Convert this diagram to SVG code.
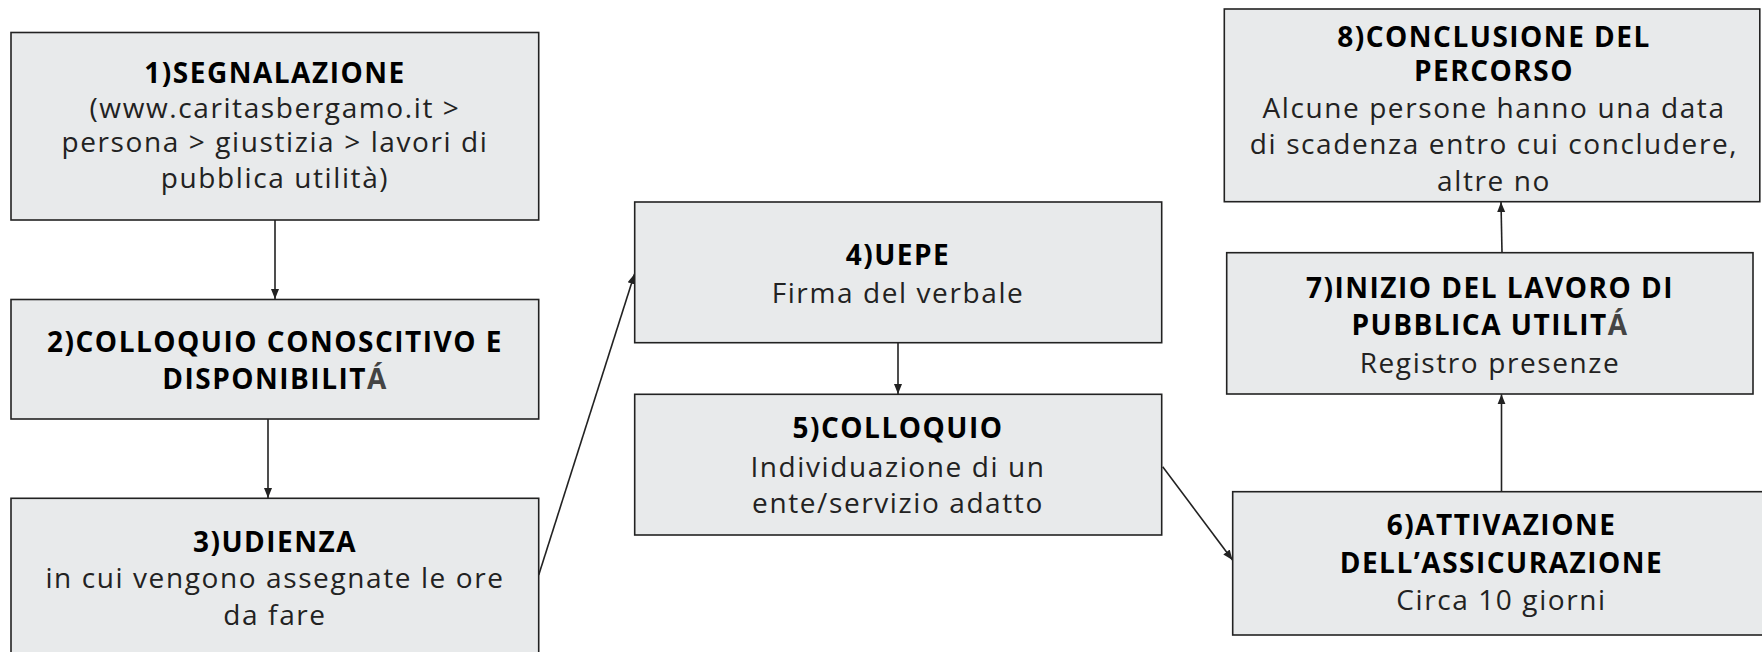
<svg xmlns="http://www.w3.org/2000/svg" width="1762" height="652" viewBox="0 0 1762 652">
<defs>
<marker id="ah" viewBox="0 0 10 10" refX="10" refY="5" markerWidth="10" markerHeight="10" markerUnits="userSpaceOnUse" orient="auto">
<path d="M0,1 L10,5 L0,9 Z" fill="#222"/>
</marker>
<style>
.box{fill:#e8eaeb;stroke:#222;stroke-width:1.6}
.t{font-family:"Open Sans",Lato,"Liberation Sans",sans-serif;font-size:28px;text-anchor:middle;fill:#222;letter-spacing:1.6px}
.b{font-weight:700;fill:#000;letter-spacing:1.5px}
.g{fill:#444}
.c{stroke:#222;stroke-width:1.6;fill:none;marker-end:url(#ah)}
</style>
</defs>
<rect width="1762" height="652" fill="#fff"/>
<g id="connectors">
<line class="c" x1="275" y1="220" x2="275" y2="299"/>
<line class="c" x1="268" y1="419" x2="268" y2="498"/>
<line class="c" x1="538.7" y1="575" x2="634.5" y2="274"/>
<line class="c" x1="898" y1="342.7" x2="898" y2="394"/>
<line class="c" x1="1162.7" y1="466.7" x2="1232.5" y2="560"/>
<line class="c" x1="1501.5" y1="491.7" x2="1501.5" y2="394.3"/>
<line class="c" x1="1502" y1="252.7" x2="1501" y2="202"/>
</g>
<g id="n1">
<rect class="box" x="11" y="32.5" width="527.7" height="187.5"/>
<text class="t" x="275"><tspan class="b" x="275" y="82.7">1)SEGNALAZIONE</tspan><tspan x="275" y="117.5">(www.caritasbergamo.it &gt;</tspan><tspan x="275" y="152.3">persona &gt; giustizia &gt; lavori di</tspan><tspan x="275" y="187.5">pubblica utilità)</tspan></text>
</g>
<g id="n2">
<rect class="box" x="11" y="299.5" width="527.7" height="119.5"/>
<text class="t b"><tspan x="275" y="352">2)COLLOQUIO CONOSCITIVO E</tspan><tspan x="275" y="389">DISPONIBILIT<tspan class="g">Á</tspan></tspan></text>
</g>
<g id="n3">
<rect class="box" x="11" y="498.3" width="527.7" height="170"/>
<text class="t"><tspan class="b" x="275" y="551.7">3)UDIENZA</tspan><tspan x="275" y="588">in cui vengono assegnate le ore</tspan><tspan x="275" y="625">da fare</tspan></text>
</g>
<g id="n4">
<rect class="box" x="634.7" y="202" width="527" height="140.7"/>
<text class="t"><tspan class="b" x="898" y="265">4)UEPE</tspan><tspan x="898" y="302.7">Firma del verbale</tspan></text>
</g>
<g id="n5">
<rect class="box" x="634.7" y="394.3" width="527" height="140.7"/>
<text class="t"><tspan class="b" x="898" y="438">5)COLLOQUIO</tspan><tspan x="898" y="476.7">Individuazione di un</tspan><tspan x="898" y="513">ente/servizio adatto</tspan></text>
</g>
<g id="n6">
<rect class="box" x="1232.7" y="491.7" width="540" height="143.3"/>
<text class="t"><tspan class="b" x="1501.5" y="535">6)ATTIVAZIONE</tspan><tspan class="b" x="1501.5" y="573.3">DELL’ASSICURAZIONE</tspan><tspan x="1501.5" y="610">Circa 10 giorni</tspan></text>
</g>
<g id="n7">
<rect class="box" x="1226.7" y="252.7" width="526.3" height="141.3"/>
<text class="t"><tspan class="b" x="1490" y="298.3">7)INIZIO DEL LAVORO DI</tspan><tspan class="b" x="1490" y="335">PUBBLICA UTILIT<tspan class="g">Á</tspan></tspan><tspan x="1490" y="372.7">Registro presenze</tspan></text>
</g>
<g id="n8">
<rect class="box" x="1224.3" y="9" width="535.5" height="192.7"/>
<text class="t"><tspan class="b" x="1494" y="46.5">8)CONCLUSIONE DEL</tspan><tspan class="b" x="1494" y="81">PERCORSO</tspan><tspan x="1494" y="118.3">Alcune persone hanno una data</tspan><tspan x="1494" y="154">di scadenza entro cui concludere,</tspan><tspan x="1494" y="191">altre no</tspan></text>
</g>
</svg>
